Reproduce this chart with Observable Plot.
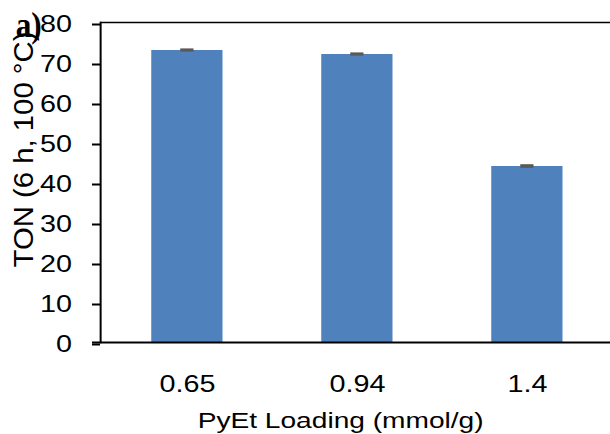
<!DOCTYPE html>
<html>
<head>
<meta charset="utf-8">
<script src="https://cdn.jsdelivr.net/npm/d3@7"></script>
<script src="https://cdn.jsdelivr.net/npm/@observablehq/plot@0.6"></script>
<style>
  html, body { margin: 0; padding: 0; background: #fff; }
  #chart svg { display: block; }
</style>
</head>
<body>
<div id="chart"></div>
<script>
// Data
const loadings = ["0.65", "0.94", "1.4"];
const ton = [73.0, 72.0, 44.0];
const tonErr = [0.4, 0.4, 0.45];
const yTicks = [0, 10, 20, 30, 40, 50, 60, 70, 80];
const xTitle = "PyEt Loading (mmol/g)";
const yTitle = "TON (6 h, 100 °C)";
const panelLabel = "a)";

const data = loadings.map((l, i) => ({load: l, v: ton[i], e: tonErr[i]}));

const W = 488, H = 434, SX = 610 / 488; // reference is horizontally stretched

const svg = Plot.plot({
  width: W,
  height: H,
  marginLeft: 80,
  marginRight: 0,
  marginTop: 22,
  marginBottom: 92,
  style: {fontFamily: "'Liberation Sans', Arial, sans-serif", fontSize: "23px", color: "#000", background: "#fff"},
  x: {type: "band", domain: loadings, range: [81.4, 490.6], paddingInner: 0.578, paddingOuter: 0.289},
  y: {domain: [0, 80]},
  marks: [
    Plot.barY(data, {x: "load", y: "v", fill: "#4F81BD"}),
    Plot.rectY(data, {x: "load", y1: d => d.v - d.e, y2: d => d.v + d.e, fill: "#595959", insetLeft: 23.2, insetRight: 23.2}),
    Plot.ruleY([80], {stroke: "#000", strokeWidth: 1.6}),
    Plot.ruleY([0], {stroke: "#000", strokeWidth: 2, insetLeft: -6.4}),
    Plot.frame({anchor: "left", stroke: "#000", strokeWidth: 1.6}),
    Plot.axisY({ticks: yTicks, tickSize: 6.4, tickPadding: 16.5, strokeWidth: 2, fontSize: 23, dy: 2, label: null}),
    Plot.axisX({tickSize: 0, tickPadding: 33, fontSize: 23, label: null}),
    Plot.text([xTitle], {frameAnchor: "bottom", dx: -12, dy: 70, lineAnchor: "top", fontSize: 22.5, fill: "#000"}),
    Plot.text([yTitle], {frameAnchor: "left", rotate: -90, dx: -61.6, dy: 85, textAnchor: "start", lineAnchor: "middle", fontSize: 22.5, fill: "#000"}),
    Plot.text([panelLabel], {frameAnchor: "top-left", dx: -68, dy: 2.5, textAnchor: "start", lineAnchor: "middle", fontSize: 36, fontWeight: "bold", fontFamily: "'Liberation Serif', 'Times New Roman', serif", fill: "#000"})
  ]
});

svg.setAttribute("width", 610);
svg.setAttribute("height", H);
svg.setAttribute("viewBox", `0 0 ${W} ${H}`);
svg.setAttribute("preserveAspectRatio", "none");
svg.style.maxWidth = "none";
svg.style.width = "610px";
svg.style.height = H + "px";

document.getElementById("chart").appendChild(svg);

d3.select(svg).selectAll("text")
  .filter(function() { return this.textContent === yTitle; })
  .attr("textLength", 236).attr("lengthAdjust", "spacingAndGlyphs");
d3.select(svg).selectAll("text")
  .filter(function() { return this.textContent === panelLabel; })
  .attr("textLength", 26 / SX).attr("lengthAdjust", "spacingAndGlyphs");
</script>
</body>
</html>
